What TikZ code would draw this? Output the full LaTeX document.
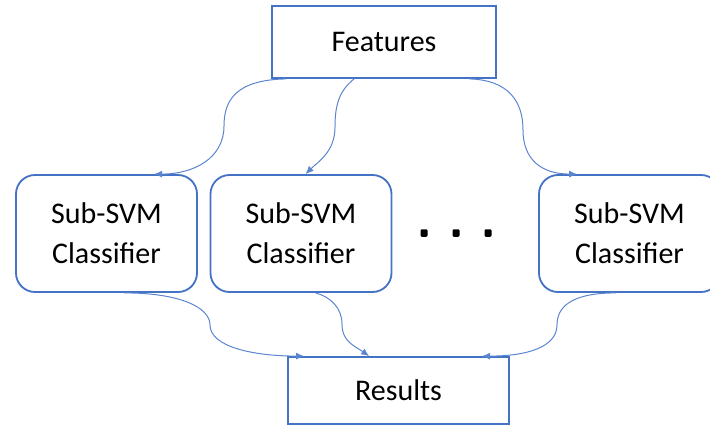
\documentclass[tikz,border=0pt]{standalone}
\usepackage{fontspec}
\setmainfont{Carlito}
\usetikzlibrary{calc,arrows.meta}
\definecolor{edge}{HTML}{4472C4}
\definecolor{conn}{HTML}{5B86CF}
\tikzset{
  sqbox/.style={draw=edge, line width=1.8pt, fill=white, inner sep=0pt, align=center,
    font=\fontsize{30}{40}\selectfont},
  rbox/.style={sqbox, rounded corners=19pt, minimum width=181pt, minimum height=117pt},
  conline/.style={draw=conn, line width=1pt, -{Latex[length=8pt,width=7pt]}},
  dotmark/.style={fill=black, minimum width=7pt, minimum height=7.5pt, inner sep=0pt, rounded corners=1.2pt}
}
\begin{document}
\begin{tikzpicture}[x=1pt,y=-1pt]
\clip (0,0) rectangle (710,425);
\useasboundingbox (0,0) rectangle (710,425);
\node[sqbox, minimum width=224pt, minimum height=72pt] (feat) at (384,42) {Features};
\node[rbox] (b1) at (106.5,233.5) {Sub-SVM\\Classifier};
\node[rbox] (b2) at (301,233.5) {Sub-SVM\\Classifier};
\node[rbox] (b3) at (629.5,233.5) {Sub-SVM\\Classifier};
\node[sqbox, minimum width=221pt, minimum height=67pt] (res) at (398.5,390.5) {Results};
\node[dotmark] (d1) at (424,233) {};
\node[dotmark] (d2) at (456,233) {};
\node[dotmark] (d3) at (488,233) {};
% Features -> classifiers
\draw[conline] ($(feat.south west)+(15,0)$) .. controls +(-50,1) and +(0,-26) .. (224,126)
  .. controls +(0,32) and +(40,0) .. ($(b1.north west)+(139,0)$);
\draw[conline] ($(feat.south west)+(83,0)$) .. controls +(-15,12) and +(0,-22) .. (335,127)
  .. controls +(0,25) and +(12,-12) .. ($(b2.north west)+(96,0)$);
\draw[conline] ($(feat.south west)+(198,0)$) .. controls +(40,1) and +(0,-28) .. (523,130)
  .. controls +(0,30) and +(-35,0) .. ($(b3.north west)+(39,0)$);
% classifiers -> Results
\draw[conline] ($(b1.south west)+(109,0)$) .. controls +(55,0) and +(0,-18) .. (210,325)
  .. controls +(0,22) and +(-50,0) .. ($(res.north west)+(17,0)$);
\draw[conline] ($(b2.south west)+(106,0)$) .. controls +(15,4) and +(0,-16) .. (342,324)
  .. controls +(0,18) and +(-14,-10) .. ($(res.north west)+(82,0)$);
\draw[conline] ($(b3.south west)+(78,0)$) .. controls +(-45,0) and +(0,-18) .. (557,325)
  .. controls +(0,22) and +(45,0) .. ($(res.north west)+(195,0)$);
\end{tikzpicture}
\end{document}
